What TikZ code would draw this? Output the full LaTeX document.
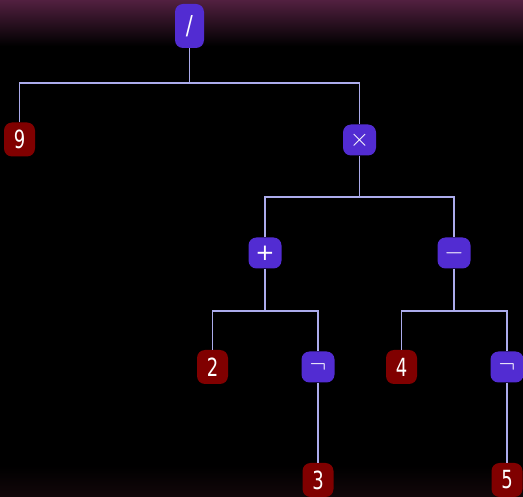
\documentclass[tikz,border=0pt]{standalone}
\usepackage{fontspec}
\setmainfont{DejaVu Sans}
\usepackage{graphicx}
\definecolor{opc}{RGB}{82,44,210}
\definecolor{numc}{RGB}{128,0,0}
\definecolor{edgec}{RGB}{172,172,236}
\definecolor{topc}{RGB}{82,32,64}
\definecolor{botc}{RGB}{18,7,10}
\tikzset{
  opnode/.style={draw=none, fill=opc, rounded corners=8pt, text=white, minimum width=33pt, minimum height=31pt, inner sep=0pt, font=\fontsize{23}{25}\selectfont},
  numnode/.style={draw=none, fill=numc, rounded corners=8pt, text=white, minimum width=31pt, minimum height=34pt, inner sep=0pt, font=\fontsize{25}{28}\selectfont},
  edge/.style={draw=edgec, line width=1.9pt}
}
\newcommand{\nx}[1]{\scalebox{0.72}[1]{#1}}
\begin{document}
\begin{tikzpicture}[x=1pt,y=-1pt]
\useasboundingbox (0,0) rectangle (523,497);
\fill[black] (0,0) rectangle (523,497);
\shade[top color=topc, bottom color=black] (0,0) rectangle (523,46);
\shade[top color=black, bottom color=botc] (0,466) rectangle (523,497);

\coordinate (j1) at (189.5,83);
\coordinate (j2) at (359.5,197);
\coordinate (j3) at (265,311);
\coordinate (j4) at (454,311);

\node[opnode, minimum width=29pt, minimum height=44pt, font=\fontsize{26}{28}\selectfont] (div) at (189.5,26) {\scalebox{0.8}[1]{/}};
\node[numnode] (n9) at (19.5,139.5) {\nx{9}};
\node[opnode] (mul) at (359.5,140) {$\times$};
\node[opnode] (add) at (265,253) {+};
\node[opnode] (sub) at (454,253) {$-$};
\node[numnode] (n2) at (212.5,367) {\nx{2}};
\node[opnode] (neg1) at (318,367) {$\neg$};
\node[numnode] (n4) at (401.5,367) {\nx{4}};
\node[opnode] (neg2) at (507,367) {$\neg$};
\node[numnode] (n3) at (318,480) {\nx{3}};
\node[numnode] (n5) at (507,480) {\nx{5}};

\draw[edge] (div.south) -- (j1);
\draw[edge] (j1) -| (n9.north);
\draw[edge] (j1) -| (mul.north);
\draw[edge] (mul.south) -- (j2);
\draw[edge] (j2) -| (add.north);
\draw[edge] (j2) -| (sub.north);
\draw[edge] (add.south) -- (j3);
\draw[edge] (j3) -| (n2.north);
\draw[edge] (j3) -| (neg1.north);
\draw[edge] (sub.south) -- (j4);
\draw[edge] (j4) -| (n4.north);
\draw[edge] (j4) -| (neg2.north);
\draw[edge] (neg1.south) -- (n3.north);
\draw[edge] (neg2.south) -- (n5.north);
\end{tikzpicture}
\end{document}
